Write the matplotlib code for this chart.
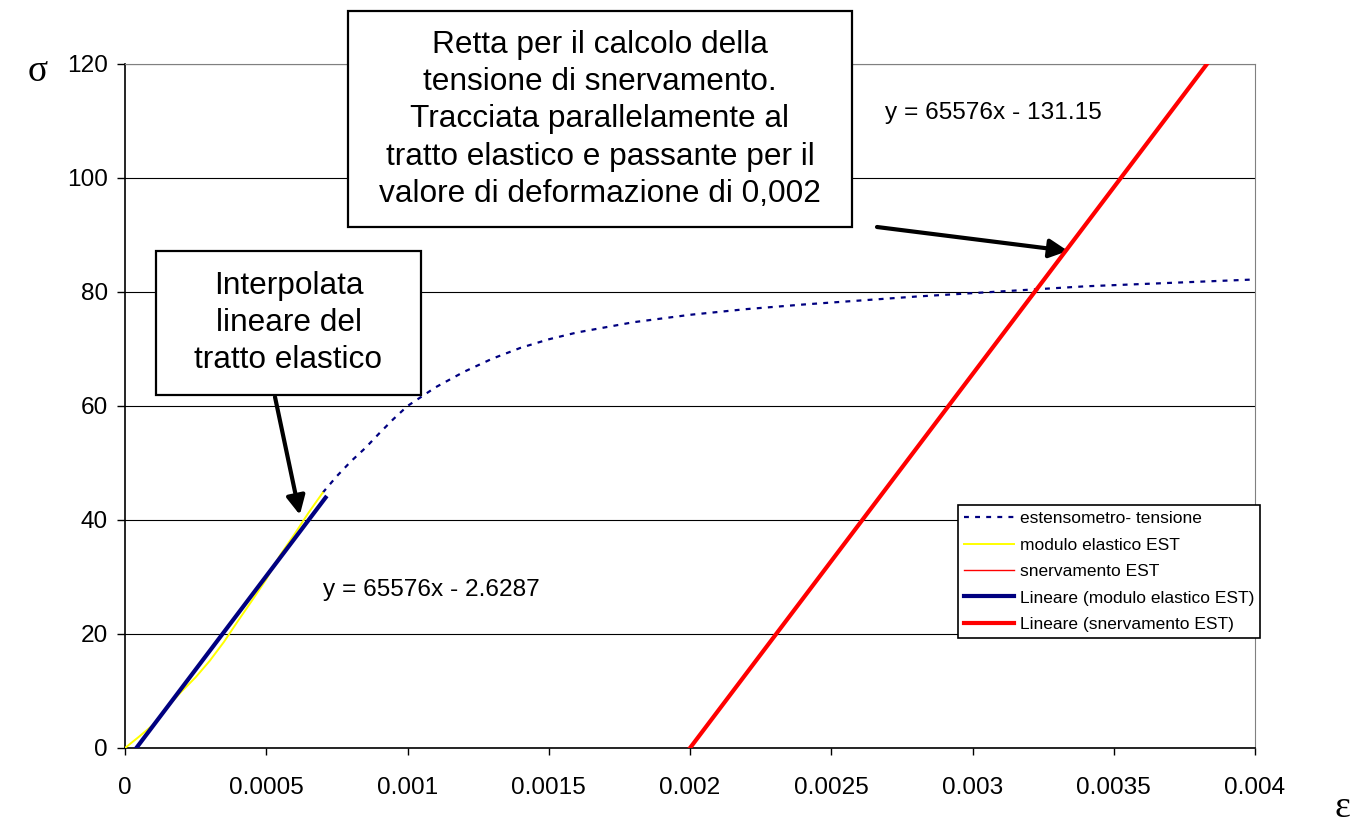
import matplotlib.pyplot as plt
from matplotlib.patches import Rectangle

plt.rcParams["font.family"] = ["Liberation Sans", "DejaVu Sans"]

# extensometer curve (beyond the elastic portion)
strain_ext = [0.0007, 0.00075, 0.0008, 0.00085, 0.0009, 0.00095, 0.001, 0.0011,
              0.0012, 0.0013, 0.0014, 0.0015, 0.0016, 0.0018, 0.002, 0.0022,
              0.0024, 0.0026, 0.0028, 0.003, 0.0032, 0.0034, 0.0036, 0.0038, 0.004]
stress_ext = [44.8, 47.7, 50.3, 52.6, 55.2, 57.7, 60.0, 63.3,
              66.0, 68.3, 70.2, 71.7, 72.9, 74.7, 76.0, 77.0,
              77.8, 78.5, 79.2, 79.8, 80.4, 81.0, 81.4, 81.8, 82.2]

# elastic portion of the data
strain_el = [0, 0.00005, 0.0001, 0.00015, 0.0002, 0.00025, 0.0003, 0.00035,
             0.0004, 0.00045, 0.0005, 0.00055, 0.0006, 0.00065, 0.0007]
stress_el = [0, 2.0, 4.1, 7.2, 9.9, 12.4, 15.3, 18.6,
             22.3, 25.9, 29.6, 33.9, 37.5, 41.3, 44.8]

# yield line data points
strain_sn = [0.002, 0.0038]
stress_sn = [0.0, 118.0]

# linear trendlines
slope = 65576
icpt_el = -2.6287
icpt_sn = -131.15
el_range = [-icpt_el / slope, 0.00071]
sn_range = [0.002, 0.004]

xticks = [0, 0.0005, 0.001, 0.0015, 0.002, 0.0025, 0.003, 0.0035, 0.004]
xticklabels = ["0", "0.0005", "0.001", "0.0015", "0.002", "0.0025", "0.003", "0.0035", "0.004"]
yticks = [0, 20, 40, 60, 80, 100, 120]

W, H = 1362, 823
fig = plt.figure(figsize=(W / 100, H / 100), dpi=100)
ax = fig.add_axes([125 / W, 75 / H, 1130 / W, 684 / H])

ax.plot(strain_ext, stress_ext, color="#000080", lw=1.6, dashes=(2.2, 2.8),
        label="estensometro- tensione", zorder=3)
ax.plot(strain_el, stress_el, color="#FFFF00", lw=1.4,
        label="modulo elastico EST", zorder=3)
ax.plot(strain_sn, stress_sn, color="#FF0000", lw=1,
        label="snervamento EST", zorder=3)
ax.plot(el_range, [slope * x + icpt_el for x in el_range], color="#000080", lw=3,
        label="Lineare (modulo elastico EST)", zorder=4)
ax.plot(sn_range, [slope * x + icpt_sn for x in sn_range], color="#FF0000", lw=3,
        label="Lineare (snervamento EST)", zorder=4)

ax.set_xlim(0, 0.004)
ax.set_ylim(0, 120)
ax.set_xticks(xticks)
ax.set_xticklabels(xticklabels)
ax.set_yticks(yticks)
ax.tick_params(axis="x", labelsize=17.6, length=5, width=1, pad=16, direction="out")
ax.tick_params(axis="y", labelsize=17.6, length=5.5, width=1, pad=7, direction="out")
ax.yaxis.grid(True, color="black", lw=0.8)
ax.set_axisbelow(True)
for side in ["top", "right"]:
    ax.spines[side].set_color("#808080")
for side in ["left", "bottom"]:
    ax.spines[side].set_color("black")
    ax.spines[side].set_linewidth(1.2)

leg = ax.legend(loc="upper left", bbox_to_anchor=(958 / W, 1 - 505 / H),
                bbox_transform=fig.transFigure, fontsize=12.5, frameon=True,
                fancybox=False, edgecolor="black", framealpha=1,
                handlelength=2.9, handletextpad=0.3, labelspacing=0.65,
                borderpad=0.35, borderaxespad=0)
leg.get_frame().set_linewidth(1.2)
leg.set_zorder(6)

# trendline equations
ax.text(0.000701, 27.7, "y = 65576x - 2.6287", fontsize=17.6, va="center", ha="left")
ax.text(0.00269, 111.4, "y = 65576x - 131.15", fontsize=17.6, va="center", ha="left")

# callout boxes
fig.add_artist(Rectangle((348 / W, 1 - 227 / H), 504 / W, 216 / H,
                         transform=fig.transFigure, facecolor="white",
                         edgecolor="black", lw=1.6, zorder=5))
fig.text(600 / W, 1 - 119.5 / H,
         "Retta per il calcolo della\ntensione di snervamento.\n"
         "Tracciata parallelamente al\ntratto elastico e passante per il\n"
         "valore di deformazione di 0,002",
         fontsize=22.8, ha="center", va="center", linespacing=1.31, zorder=6)

fig.add_artist(Rectangle((156 / W, 1 - 395 / H), 265 / W, 144 / H,
                         transform=fig.transFigure, facecolor="white",
                         edgecolor="black", lw=1.6, zorder=5))
fig.text(288.5 / W, 1 - 323 / H, "Interpolata\nlineare del\ntratto elastico",
         fontsize=22.8, ha="center", va="center", linespacing=1.31, zorder=6)

arrow = dict(arrowstyle="-|>", color="black", lw=3, mutation_scale=28,
             shrinkA=0, shrinkB=0)
ax.annotate("", xy=(0.000619, 40.9), xycoords="data",
            xytext=(275, H - 397), textcoords="figure pixels", arrowprops=arrow)
ax.annotate("", xy=(0.003338, 87.2), xycoords="data",
            xytext=(877, H - 227), textcoords="figure pixels", arrowprops=arrow)

# axis symbols
fig.text(38 / W, 1 - 72 / H, "σ", fontsize=27, family="Liberation Serif",
         ha="center", va="center")
fig.text(1342 / W, 1 - 808 / H, "ε", fontsize=27, family="Liberation Serif",
         ha="center", va="center")

plt.savefig("out.png", dpi=100)
plt.close()
